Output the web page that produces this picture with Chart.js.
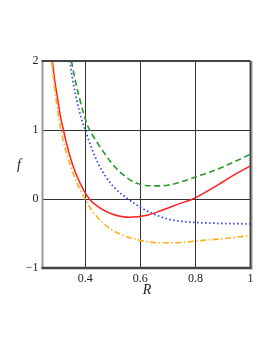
<!DOCTYPE html>
<html>
<head>
<meta charset="utf-8">
<script src="https://cdn.jsdelivr.net/npm/chart.js@4"></script>
<style>
  html, body { margin: 0; padding: 0; background: #fff; }
  #wrap { width: 273px; height: 353px; }
</style>
</head>
<body>
<div id="wrap"><canvas id="chart" width="273" height="353"></canvas></div>
<script>
const xTicks = [0.4, 0.6, 0.8, 1];
const yTicks = [-1, 0, 1, 2];

const redX = [0.281, 0.29, 0.3, 0.31, 0.321, 0.335, 0.354, 0.38, 0.415, 0.45, 0.5, 0.56, 0.62, 0.68, 0.74, 0.79, 0.85, 0.9, 0.95, 1.0];
const redY = [2, 1.7, 1.45, 1.2, 1, 0.76, 0.5, 0.24, 0, -0.12, -0.22, -0.265, -0.24, -0.16, -0.07, 0, 0.13, 0.25, 0.37, 0.48];

const greenX = [0.35, 0.365, 0.38, 0.395, 0.41, 0.44, 0.465, 0.49, 0.532, 0.58, 0.616, 0.65, 0.7, 0.75, 0.8, 0.85, 0.9, 0.95, 1.0];
const greenY = [2, 1.7, 1.45, 1.23, 1.05, 0.84, 0.69, 0.55, 0.37, 0.24, 0.2, 0.19, 0.2, 0.25, 0.32, 0.385, 0.465, 0.555, 0.65];

const blueX = [0.344, 0.355, 0.37, 0.385, 0.4, 0.425, 0.449, 0.475, 0.507, 0.556, 0.6, 0.65, 0.7, 0.75, 0.8, 0.9, 1.0];
const blueY = [2, 1.72, 1.42, 1.18, 1, 0.72, 0.5, 0.32, 0.16, 0, -0.12, -0.22, -0.29, -0.325, -0.34, -0.355, -0.36];

const orangeX = [0.278, 0.287, 0.295, 0.303, 0.312, 0.328, 0.345, 0.36, 0.378, 0.4, 0.425, 0.455, 0.49, 0.527, 0.6, 0.671, 0.75, 0.8, 0.9, 1.0];
const orangeY = [2, 1.68, 1.42, 1.2, 1, 0.72, 0.5, 0.33, 0.16, 0, -0.17, -0.31, -0.43, -0.51, -0.6, -0.635, -0.63, -0.61, -0.575, -0.53];

const pts = (xs, ys) => xs.map((x, i) => ({ x: x, y: ys[i] }));

const serif = '"Liberation Serif", "DejaVu Serif", serif';

// frame and axis titles, drawn on top
const framePlugin = {
    id: 'frame',
    afterDraw(chart) {
        const { ctx, chartArea: a } = chart;
        ctx.save();
        ctx.lineCap = 'butt';
        ctx.strokeStyle = '#999';
        ctx.lineWidth = 2;
        ctx.beginPath(); ctx.moveTo(a.left, a.top); ctx.lineTo(a.left, a.bottom); ctx.stroke();
        ctx.strokeStyle = '#bbb';
        ctx.lineWidth = 1.5;
        ctx.beginPath(); ctx.moveTo(a.right + 1.5, a.top); ctx.lineTo(a.right + 1.5, a.bottom + 2); ctx.stroke();
        ctx.strokeStyle = '#444';
        ctx.lineWidth = 2;
        ctx.beginPath(); ctx.moveTo(a.left - 1, a.top); ctx.lineTo(a.right, a.top); ctx.stroke();
        ctx.beginPath(); ctx.moveTo(a.right, a.top); ctx.lineTo(a.right, a.bottom); ctx.stroke();
        ctx.lineWidth = 2.5;
        ctx.beginPath(); ctx.moveTo(a.left - 1, a.bottom); ctx.lineTo(a.right + 1, a.bottom); ctx.stroke();

        ctx.fillStyle = '#222';
        ctx.font = 'italic 14px ' + serif;
        ctx.textAlign = 'center';
        ctx.textBaseline = 'middle';
        ctx.fillText('R', 147, 290);
        ctx.fillText('f', 19, 165);
        ctx.restore();
    }
};

const gridColor = ctx => (ctx.tick && (ctx.index === 0 && ctx.scale.axis === 'y' || ctx.tick.value === 1 && ctx.scale.axis === 'x' || ctx.tick.value === 2)) ? 'rgba(0,0,0,0)' : '#333';

new Chart(document.getElementById('chart'), {
    type: 'line',
    data: {
        datasets: [
            { label: 'green', data: pts(greenX, greenY), borderColor: '#2a9a2a', borderWidth: 1.6, borderDash: [6, 3.5] },
            { label: 'blue', data: pts(blueX, blueY), borderColor: '#3344ff', borderWidth: 1.8, borderDash: [1.5, 2.5] },
            { label: 'orange', data: pts(orangeX, orangeY), borderColor: '#ffae1a', borderWidth: 1.6, borderDash: [6, 2.5, 1.5, 2.5] },
            { label: 'red', data: pts(redX, redY), borderColor: '#ff2020', borderWidth: 1.5 }
        ]
    },
    options: {
        responsive: false,
        animation: false,
        events: [],
        elements: {
            point: { radius: 0 },
            line: { cubicInterpolationMode: 'monotone', fill: false }
        },
        layout: { padding: { left: 0, top: 61, right: 22.5, bottom: 55 } },
        plugins: { legend: { display: false }, tooltip: { enabled: false } },
        scales: {
            x: {
                type: 'linear',
                min: 0.245,
                max: 1,
                afterBuildTicks: s => { s.ticks = xTicks.map(v => ({ value: v })); },
                afterFit: s => { s.height = 30; },
                border: { display: false },
                grid: { color: gridColor, lineWidth: 1, drawTicks: false },
                ticks: {
                    color: '#222',
                    padding: 4,
                    maxRotation: 0,
                    font: { family: serif, size: 12 },
                    callback: v => String(v)
                }
            },
            y: {
                min: -1,
                max: 2,
                afterBuildTicks: s => { s.ticks = yTicks.map(v => ({ value: v })); },
                afterFit: s => { s.width = 42.5; },
                border: { display: false },
                grid: { color: gridColor, lineWidth: 1, drawTicks: false },
                ticks: {
                    color: '#222',
                    padding: 4,
                    font: { family: serif, size: 12 },
                    callback: v => v < 0 ? '\u2212' + Math.abs(v) : String(v)
                }
            }
        }
    },
    plugins: [framePlugin]
});
</script>
</body>
</html>
